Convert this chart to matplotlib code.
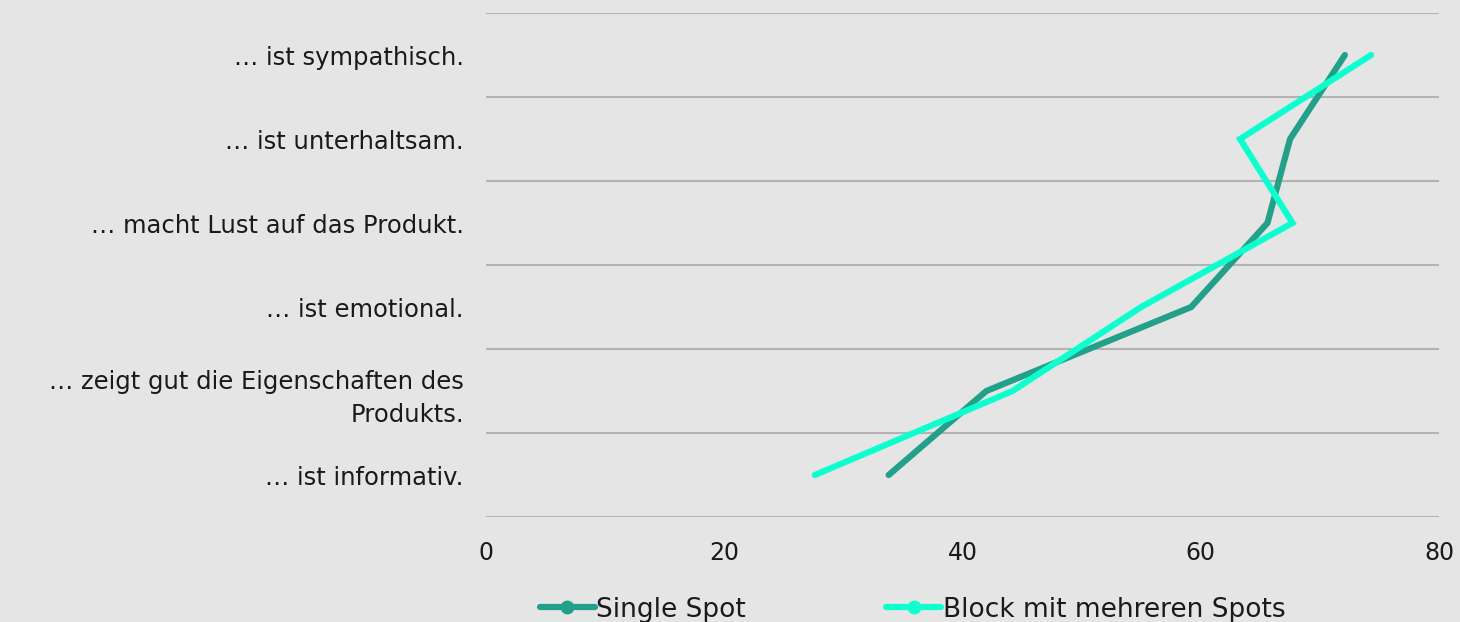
import matplotlib.pyplot as plt
from matplotlib.lines import Line2D
import numpy as np

# Statement labels, bottom to top
statements = ["… ist informativ.",
              "… zeigt gut die Eigenschaften des\nProdukts.",
              "… ist emotional.",
              "… macht Lust auf das Produkt.",
              "… ist unterhaltsam.",
              "… ist sympathisch."]
single_spot = [33.8, 42.0, 59.2, 65.6, 67.5, 72.1]
block_spots = [27.6, 44.2, 55.0, 67.7, 63.3, 74.3]
series_names = ["Single Spot", "Block mit mehreren Spots"]
colors = ["#23a08a", "#0dffd0"]

plt.rcParams['font.family'] = ['DejaVu Sans']

fig = plt.figure(figsize=(14.6, 6.22), dpi=100)
fig.patch.set_facecolor("#e5e5e5")
ax = fig.add_axes([0.3329, 0.1688, 0.6527, 0.8103])
ax.set_facecolor("#e5e5e5")

ypos = np.arange(len(statements))
for vals, col in zip([single_spot, block_spots], colors):
    ax.plot(vals, ypos, color=col, lw=4.5, solid_capstyle='round',
            solid_joinstyle='miter', zorder=3)

ax.set_xlim(0, 80)
ax.set_ylim(-0.5, len(statements) - 0.5)
ax.set_xticks([0, 20, 40, 60, 80])
ax.set_yticks(ypos)
ax.set_yticklabels(statements, fontsize=17.5, color="#1a1a1a", linespacing=1.5)
ax.tick_params(axis='x', labelsize=17, colors="#1a1a1a", length=0, pad=17)
ax.tick_params(axis='y', length=0, pad=16)

# Horizontal separators between categories
for b in np.arange(-0.5, len(statements), 1.0):
    ax.axhline(b, color="#b3b3b3", lw=1.5, zorder=1)
for s in ax.spines.values():
    s.set_visible(False)

handles = [Line2D([0], [0], color=c, lw=4.5, marker='o', markersize=9,
                  solid_capstyle='round') for c in colors]
leg = fig.legend(handles, series_names, loc='center', ncol=2,
                 bbox_to_anchor=(0.625, 0.02), frameon=False, fontsize=19,
                 handlelength=2.1, handletextpad=0.05, columnspacing=5.3,
                 borderpad=0)
for t in leg.get_texts():
    t.set_color("#1a1a1a")

fig.savefig("out.png", dpi=100, facecolor=fig.get_facecolor())
